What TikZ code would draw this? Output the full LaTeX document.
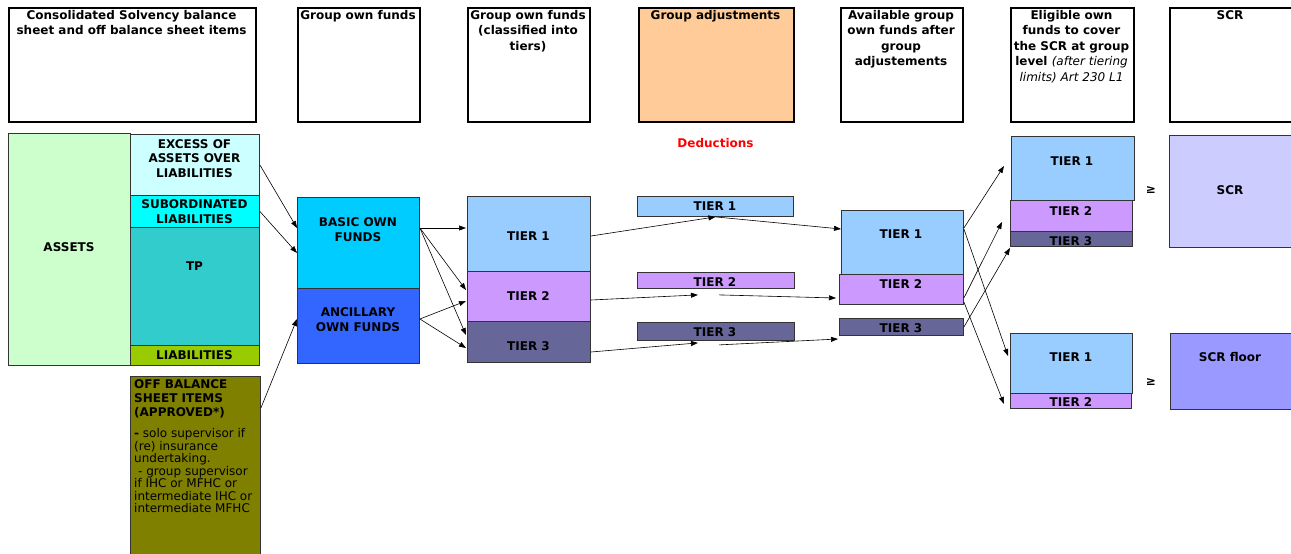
\documentclass[tikz,border=0pt]{standalone}
\usepackage{fontspec}
\setmainfont{DejaVu Sans}
\usetikzlibrary{arrows.meta}
\definecolor{cAssets}{HTML}{CCFFCC}
\definecolor{cExcess}{HTML}{CCFFFF}
\definecolor{cSub}{HTML}{00FFFF}
\definecolor{cTP}{HTML}{33CCCC}
\definecolor{cLiab}{HTML}{99CC00}
\definecolor{cOff}{HTML}{808000}
\definecolor{cBasic}{HTML}{00CCFF}
\definecolor{cAnc}{HTML}{3366FF}
\definecolor{cTa}{HTML}{99CCFF}
\definecolor{cTb}{HTML}{CC99FF}
\definecolor{cTc}{HTML}{666699}
\definecolor{cOrange}{HTML}{FFCC99}
\definecolor{cSCR}{HTML}{CCCCFF}
\definecolor{cFloor}{HTML}{9999FF}
\newcommand\mkbox[6]{%
  \pgfmathsetmacro\bw{#5-#3}\pgfmathsetmacro\bh{#6-#4}%
  \node[#2, minimum width=\bw pt, minimum height=\bh pt] (#1) at (#3,#4) {};}
\begin{document}
\begin{tikzpicture}[x=1pt,y=-1pt,
  hdr/.style={draw=black, line width=1.8pt, fill=white, inner sep=0, anchor=north west},
  bx/.style={draw=black!80, line width=0.9pt, inner sep=0, anchor=north west},
  lbl/.style={font=\fontsize{12}{15.5}\selectfont\bfseries, align=center, inner sep=0},
  arr/.style={-{Triangle[length=7pt,width=5pt]}, line width=0.6pt}]
\useasboundingbox (0,0) rectangle (1291,554);
% headers
\mkbox{h1}{hdr}{8}{7}{255}{121}
\mkbox{h2}{hdr}{297}{7}{419}{121}
\mkbox{h3}{hdr}{467}{7}{589}{121}
\mkbox{h4}{hdr,fill=cOrange}{638}{7}{793}{121}
\mkbox{h5}{hdr}{840}{7}{962}{121}
\mkbox{h6}{hdr}{1010}{7}{1133}{121}
\mkbox{h7}{hdr}{1169}{7}{1296}{121}
\node[lbl, anchor=north] (h1t) at (131.5,10) {Consolidated Solvency balance\\sheet and off balance sheet items};
\node[lbl, anchor=north] (h2t) at (358,10) {Group own funds};
\node[lbl, anchor=north] (h3t) at (528,10) {Group own funds\\(classified into\\tiers)};
\node[lbl, anchor=north] (h4t) at (715.5,10) {Group adjustments};
\node[lbl, anchor=north] (h5t) at (901,10) {Available group\\own funds after\\group\\adjustements};
\node[lbl, anchor=north] (h6t) at (1071.5,10) {Eligible own\\funds to cover\\the SCR at group\\level {\mdseries\itshape (after tiering}\\{\mdseries\itshape limits) Art 230 L1}};
\node[lbl, anchor=north] (h7t) at (1230,10) {SCR};
% balance sheet
\mkbox{assets}{bx,fill=cAssets}{8}{133}{130}{365}
\mkbox{excess}{bx,fill=cExcess}{130}{134}{259}{195}
\mkbox{sub}{bx,fill=cSub}{130}{195}{259}{227}
\mkbox{tp}{bx,fill=cTP}{130}{227}{259}{345}
\mkbox{liab}{bx,fill=cLiab}{130}{345}{259}{365}
\mkbox{offb}{bx,fill=cOff}{130}{376}{260}{556}
\node[lbl] (assetst) at (69,247) {ASSETS};
\node[lbl, font=\fontsize{12}{14.5}\selectfont\bfseries] (excesst) at (194.5,158.5) {EXCESS OF\\ASSETS OVER\\LIABILITIES};
\node[lbl, font=\fontsize{12}{14.5}\selectfont\bfseries] (subt) at (194.5,211.5) {SUBORDINATED\\LIABILITIES};
\node[lbl] (tpt) at (194.5,266) {TP};
\node[lbl] (liabt) at (194.5,355) {LIABILITIES};
\node[font=\fontsize{12}{12.5}\selectfont, align=left, inner sep=0, anchor=north west] (offbt) at (134,379)
 {\textbf{OFF BALANCE}\\[1.5pt]\textbf{SHEET ITEMS}\\[1.5pt]\textbf{(APPROVED*)}\\[9pt]\textbf{-} solo supervisor if\\(re) insurance\\undertaking.\\\hspace*{4pt}- group supervisor\\if IHC or MFHC or\\intermediate IHC or\\intermediate MFHC};
% own funds
\mkbox{basic}{bx,fill=cBasic}{297}{197}{419}{288}
\mkbox{anc}{bx,fill=cAnc}{297}{288}{419}{363}
\node[lbl] (basict) at (358,229.5) {BASIC OWN\\FUNDS};
\node[lbl] (anct) at (358,319.5) {ANCILLARY\\OWN FUNDS};
% tiers column
\mkbox{ca}{bx,fill=cTa}{467}{196}{590}{271}
\mkbox{cb}{bx,fill=cTb}{467}{271}{590}{321}
\mkbox{cc}{bx,fill=cTc}{467}{321}{590}{362}
\node[lbl] (cat) at (528.5,236) {TIER 1};
\node[lbl] (cbt) at (528.5,296) {TIER 2};
\node[lbl] (cct) at (528.5,346) {TIER 3};
% deductions
\node[lbl, text=red] (dedt) at (715.5,143) {Deductions};
\mkbox{da}{bx,fill=cTa}{637}{196}{793}{216}
\mkbox{db}{bx,fill=cTb}{637}{272}{794}{288}
\mkbox{dc}{bx,fill=cTc}{637}{322}{794}{340}
\node[lbl] (dat) at (715,206) {TIER 1};
\node[lbl] (dbt) at (715,282.5) {TIER 2};
\node[lbl] (dct) at (715,332) {TIER 3};
% available
\mkbox{ea}{bx,fill=cTa}{841}{210}{963}{274}
\mkbox{eb}{bx,fill=cTb}{839}{274}{963}{304}
\mkbox{ec}{bx,fill=cTc}{839}{318}{963}{335}
\node[lbl] (eat) at (901,234) {TIER 1};
\node[lbl] (ebt) at (901,284) {TIER 2};
\node[lbl] (ect) at (901,328) {TIER 3};
% eligible top
\mkbox{fa}{bx,fill=cTa}{1011}{136}{1134}{200}
\mkbox{fb}{bx,fill=cTb}{1010}{200}{1132}{231}
\mkbox{fc}{bx,fill=cTc}{1010}{231}{1132}{246}
\node[lbl] (fat) at (1072,161) {TIER 1};
\node[lbl] (fbt) at (1071,211) {TIER 2};
\node[lbl] (fct) at (1071,241.5) {TIER 3};
% eligible bottom
\mkbox{ga}{bx,fill=cTa}{1010}{333}{1132}{393}
\mkbox{gb}{bx,fill=cTb}{1010}{393}{1131}{408}
\node[lbl] (gat) at (1071,357) {TIER 1};
\node[lbl] (gbt) at (1071,402.5) {TIER 2};
% SCR
\node[lbl] (geq1) at (1151,190) {≥};
\node[lbl] (geq2) at (1151,382) {≥};
\mkbox{scr}{bx,fill=cSCR}{1169}{135}{1296}{247}
\mkbox{flo}{bx,fill=cFloor}{1170}{333}{1296}{409}
\node[lbl] (scrt) at (1230,190) {SCR};
\node[lbl] (flot) at (1230,357) {SCR floor};
% arrows: balance sheet -> own funds
\draw[arr] (excess.east) -- ([yshift=-31pt]basic.north west);
\draw[arr] (sub.east) -- ([yshift=-56pt]basic.north west);
\draw[arr] ([yshift=-32pt]offb.north east) -- ([yshift=-31pt]anc.north west);
% own funds -> tiers
\draw[arr] ([yshift=-31pt]basic.north east) -- ([xshift=-1pt,yshift=-32pt]ca.north west);
\draw[arr] ([yshift=-31pt]basic.north east) -- ([xshift=-1pt,yshift=-19pt]cb.north west);
\draw[arr] ([yshift=-31pt]basic.north east) -- ([xshift=-1pt,yshift=-14pt]cc.north west);
\draw[arr] ([yshift=-31pt]anc.north east) -- ([xshift=-1pt,yshift=-30pt]cb.north west);
\draw[arr] ([yshift=-31pt]anc.north east) -- ([xshift=-1pt,yshift=-27pt]cc.north west);
% tiers -> deductions -> available
\draw[arr] ([yshift=-40pt]ca.north east) -- (da.south);
\draw[arr] (da.south) -- ([yshift=-19pt]ea.north west);
\draw[arr] ([yshift=-29pt]cb.north east) -- ([xshift=-18pt,yshift=-6pt]db.south);
\draw[arr] ([xshift=3pt,yshift=-6pt]db.south) -- ([xshift=-3pt,yshift=-24pt]eb.north west);
\draw[arr] ([yshift=-31pt]cc.north east) -- ([xshift=-18pt,yshift=-2pt]dc.south);
\draw[arr] ([xshift=3pt,yshift=-4pt]dc.south) -- ([xshift=-1pt,yshift=-21pt]ec.north west);
% available -> eligible
\draw[arr] ([yshift=-18pt]ea.north east) -- ([xshift=-7pt,yshift=-30pt]fa.north west);
\draw[arr] ([yshift=-19pt]ea.north east) -- ([xshift=-2pt,yshift=-23pt]ga.north west);
\draw[arr] ([yshift=-24pt]eb.north east) -- ([xshift=-8pt,yshift=-22pt]fb.north west);
\draw[arr] ([yshift=-28pt]eb.north east) -- ([xshift=-6pt,yshift=-11pt]gb.north west);
\draw[arr] ([yshift=-9pt]ec.north east) -- ([yshift=-1pt]fc.south west);
\end{tikzpicture}
\end{document}
